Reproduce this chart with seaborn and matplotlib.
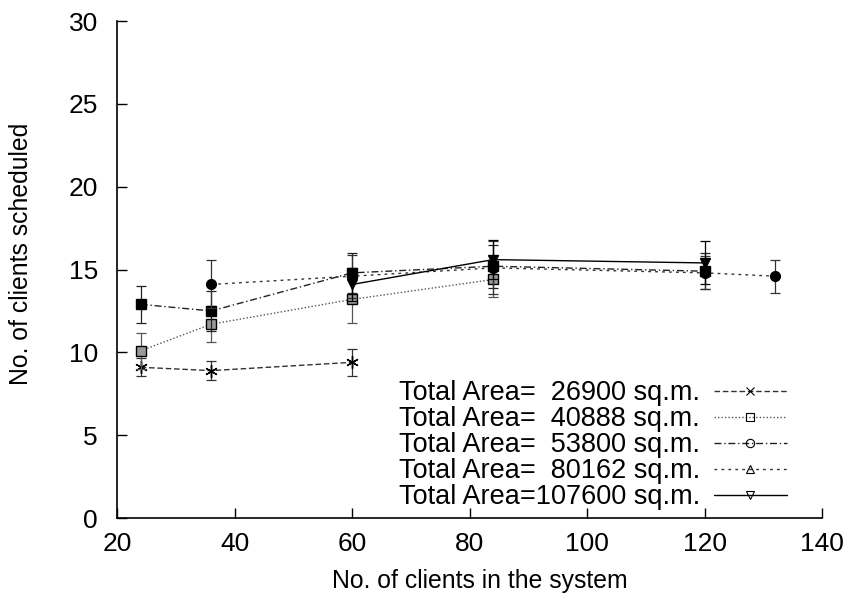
import matplotlib
matplotlib.use("Agg")
import matplotlib.pyplot as plt
from matplotlib.lines import Line2D
import seaborn as sns
import pandas as pd

# ---- data ----
labels = ["Total Area=  26900 sq.m.", "Total Area=  40888 sq.m.",
          "Total Area=  53800 sq.m.", "Total Area=  80162 sq.m.",
          "Total Area=107600 sq.m."]
x1 = [24, 36, 60];              y1 = [9.1, 8.9, 9.4];                e1 = [0.55, 0.55, 0.8]
x2 = [24, 36, 60, 84];          y2 = [10.1, 11.7, 13.2, 14.4];       e2 = [1.1, 1.1, 1.45, 1.05]
x3 = [24, 36, 60, 84, 120];     y3 = [12.9, 12.5, 14.8, 15.2, 14.9]; e3 = [1.1, 1.2, 1.2, 1.3, 1.1]
x4 = [36, 60, 84, 120, 132];    y4 = [14.1, 14.6, 15.1, 14.8, 14.6]; e4 = [1.45, 1.3, 1.6, 1.0, 1.0]
x5 = [60, 84, 120];             y5 = [14.1, 15.6, 15.4];             e5 = [1.0, 1.2, 1.3]

xs = [x1, x2, x3, x4, x5]
ys = [y1, y2, y3, y4, y5]
es = [e1, e2, e3, e4, e5]

sns.set_style("ticks")
plt.rcParams['font.family'] = ['Liberation Sans', 'DejaVu Sans']
plt.rcParams['text.color'] = 'black'
plt.rcParams['axes.labelcolor'] = 'black'

fig = plt.figure(figsize=(8.51, 6.01), dpi=100)
ax = fig.add_axes([0.1378, 0.138, 0.966 - 0.1378, 0.965 - 0.138])

dashes = [(0, (4, 2)), (0, (1, 1.5)), (0, (5, 2, 1, 2)), (0, (2, 3)), "-"]
colors = ["#333333", "#555555", "#222222", "#333333", "black"]
plot_markers = [(6, 2, 0), "s", "s", "o", "v"]
plot_mfc = ["black", "#999999", "black", "black", "black"]
plot_ms = [9, 7, 7, 7, 7]
leg_markers = ["x", "s", "o", "^", "v"]

for i in range(5):
    df = pd.DataFrame({"x": xs[i], "y": ys[i]})
    ax.errorbar(xs[i], ys[i], yerr=es[i], fmt="none", ecolor=colors[i],
                elinewidth=0.9, capsize=3.5, capthick=0.9, linestyle=dashes[i])
    sns.lineplot(data=df, x="x", y="y", ax=ax, color=colors[i], linewidth=1.0,
                 linestyle=dashes[i],
                 marker=plot_markers[i], markersize=plot_ms[i], markerfacecolor=plot_mfc[i],
                 markeredgecolor="black", markeredgewidth=1.0)

ax.set_xlim(20, 140)
ax.set_ylim(0, 30)
ax.set_xticks([20, 40, 60, 80, 100, 120, 140])
ax.set_yticks([0, 5, 10, 15, 20, 25, 30])
ax.tick_params(direction="in", length=7, width=1, labelsize=19, pad=10, color="black",
               labelcolor="black")
ax.tick_params(axis="y", pad=14)
for s in ["top", "right"]:
    ax.spines[s].set_visible(False)
for s in ["left", "bottom"]:
    ax.spines[s].set_linewidth(1.2)
    ax.spines[s].set_color("black")
ax.set_xlabel("No. of clients in the system", fontsize=17.8, color="black")
ax.set_ylabel("No. of clients scheduled", fontsize=17.8, color="black")
ax.xaxis.set_label_coords(0.515, -0.103)
ax.yaxis.set_label_coords(-0.12, 0.532)

handles = [Line2D([], [], color=colors[i], linestyle=dashes[i], linewidth=1.0,
                  marker=leg_markers[i], markersize=6, markerfacecolor="none",
                  markeredgecolor="black", markeredgewidth=0.8)
           for i in range(5)]
ax.legend(handles, labels, loc="lower right", bbox_to_anchor=(0.969, -0.012),
          markerfirst=False, frameon=False, fontsize=19.5, handlelength=2.7,
          handletextpad=0.5, labelspacing=0.0, borderaxespad=0.1, labelcolor="black")

fig.savefig("out.png", dpi=100)
